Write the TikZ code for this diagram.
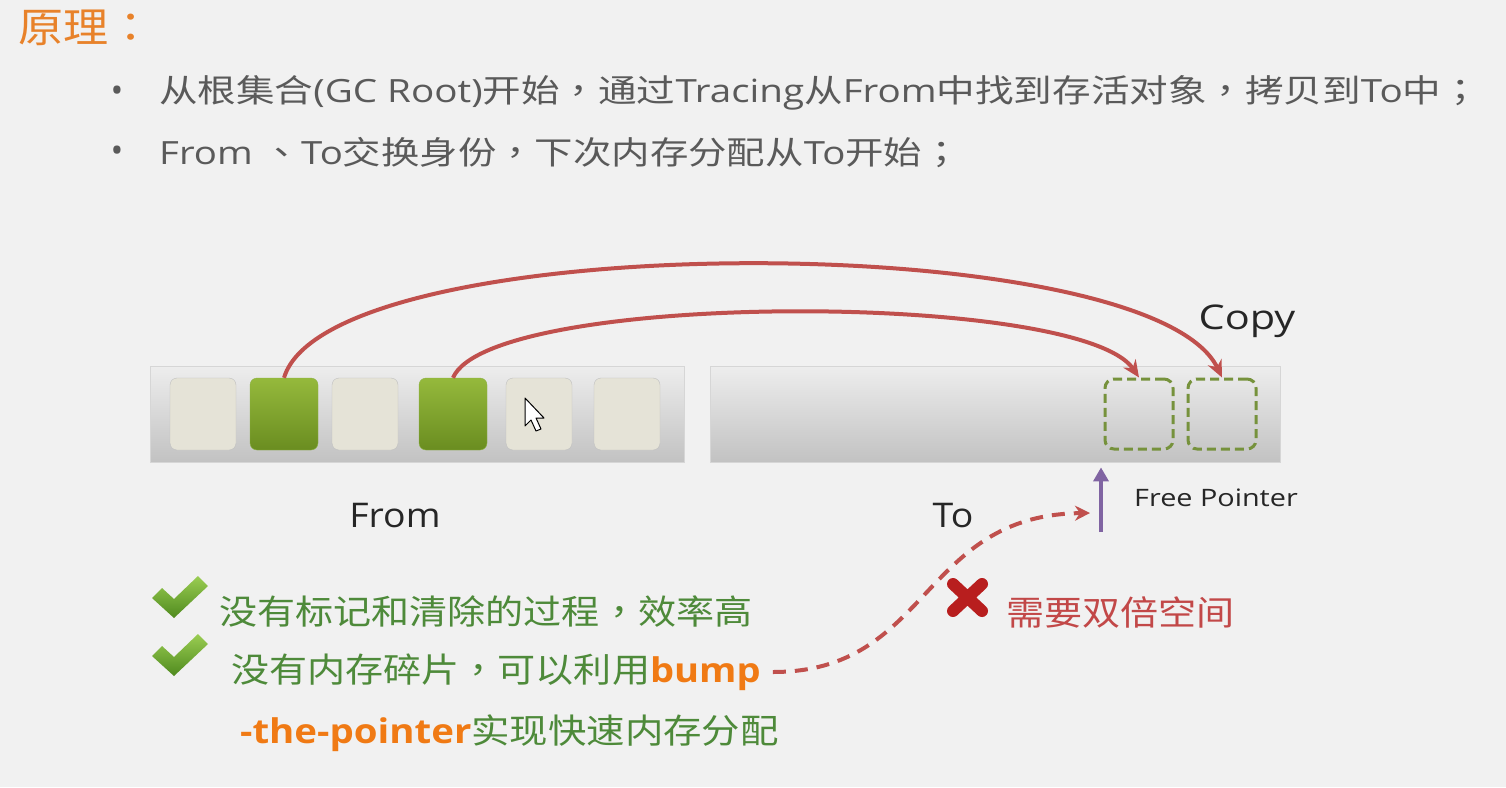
\documentclass[tikz,border=0pt]{standalone}
\usepackage{fontspec}
\usepackage{graphicx}
\setmainfont{Open Sans}
\newfontfamily\cjk{Noto Sans CJK SC}
\newfontfamily\cjkp{Noto Sans CJK TC}
\usetikzlibrary{arrows.meta}
\newcommand\zh[1]{{\cjk #1}}
\newcommand\pc[1]{{\cjkp #1}}
\newcommand\sx[2]{\scalebox{#1}[1]{#2}}
\definecolor{bgc}{HTML}{F1F1F1}
\definecolor{titleor}{HTML}{E8822A}
\definecolor{bodyg}{HTML}{5A5A5A}
\definecolor{darkt}{HTML}{262626}
\definecolor{greent}{HTML}{4E8A3A}
\definecolor{oranget}{HTML}{F07A14}
\definecolor{redt}{HTML}{C24848}
\definecolor{arrred}{HTML}{C0504D}
\definecolor{purp}{HTML}{8064A2}
\definecolor{olive}{HTML}{76923C}
\definecolor{cellbeige}{HTML}{E5E3D7}
\definecolor{livetop}{HTML}{95B93C}
\definecolor{livebot}{HTML}{6A8D20}
\definecolor{livedraw}{HTML}{8DB347}
\definecolor{checktop}{HTML}{9ACD52}
\definecolor{checkbot}{HTML}{4F8A1E}
\definecolor{xred}{HTML}{B81E1E}
\begin{document}
\begin{tikzpicture}[x=1pt,y=-1pt,
  titletext/.style={text=titleor,font=\cjk\fontsize{41}{48}\selectfont,inner sep=0pt,anchor=west},
  bodytext/.style={text=bodyg,font=\fontsize{32}{38}\selectfont,inner sep=0pt,anchor=west},
  bulletmark/.style={text=bodyg,font=\fontsize{34}{40}\selectfont,inner sep=0pt},
  labeltext/.style={text=darkt,font=\fontsize{34}{40}\selectfont,inner sep=0pt},
  greentext/.style={text=greent,font=\fontsize{34}{40}\selectfont,inner sep=0pt,anchor=west},
  redtext/.style={text=redt,font=\fontsize{34}{40}\selectfont,inner sep=0pt,anchor=west},
  membar/.style={draw=black!16,top color=black!7,bottom color=black!24,minimum height=96pt,inner sep=0pt,anchor=north west},
  freecell/.style={draw=black!25,fill=cellbeige,rounded corners=7pt,minimum width=66pt,minimum height=72pt,inner sep=0pt},
  livecell/.style={draw=livedraw,top color=livetop,bottom color=livebot,rounded corners=7pt,minimum width=68pt,minimum height=72pt,inner sep=0pt},
  copycell/.style={draw=olive,line width=3pt,dash pattern=on 9pt off 5pt,rounded corners=9pt,minimum width=68pt,minimum height=70pt,inner sep=0pt},
  copyarrow/.style={draw=arrred,line width=4pt,-{Stealth[length=17pt,width=15pt]}},
  bumparrow/.style={draw=arrred,line width=4pt,dash pattern=on 13pt off 9pt,-{Stealth[length=15pt,width=15pt]}},
  ptrarrow/.style={draw=purp,line width=4pt,-{Triangle[length=14pt,width=15pt]}},
  okmark/.style={top color=checktop,bottom color=checkbot},
]
\useasboundingbox (0,0) rectangle (1506,787);
\fill[bgc] (0,0) rectangle (1506,787);

% heading and bullets
\node[titletext] (title) at (18,28) {\sx{1.1}{原理\pc{：}}};
\node[bulletmark] (b1) at (117,94) {•};
\node[bulletmark] (b2) at (117,154) {•};
\node[bodytext] (l1) at (159,93) {\sx{1.205}{\zh{从根集合}(GC Root)\zh{开始\pc{，}通过}Tracing\zh{从}From\zh{中找到存活对象\pc{，}拷贝到}To\zh{中\pc{；}}}};
\node[bodytext] (l2) at (159,153) {\sx{1.2}{From \zh{\pc{、}}To\zh{交换身份\pc{，}下次内存分配从}To\zh{开始\pc{；}}}};

% memory bars
\node[membar,minimum width=534pt] (from) at (150,366) {};
\node[membar,minimum width=570pt] (to) at (710,366) {};

% from cells
\node[freecell] (c1) at (203,414) {};
\node[livecell] (c2) at (284,414) {};
\node[freecell] (c3) at (365,414) {};
\node[livecell] (c4) at (453,414) {};
\node[freecell] (c5) at (539,414) {};
\node[freecell] (c6) at (627,414) {};

% mouse cursor
\draw[black,fill=white,line width=1pt,line join=round] (525,398) -- (525,426) -- (531,420) -- (536,431) -- (541,429) -- (536,418) -- (544,418) -- cycle;

% to cells
\node[copycell] (t1) at (1139,414) {};
\node[copycell] (t2) at (1222,414) {};

% copy arrows
\draw[copyarrow] (c2.north) .. controls +(45,-151) and +(-72,-151) .. (t2.north);
\draw[copyarrow] (c4.north) .. controls +(37,-87) and +(-59,-87) .. (t1.north);

\node[labeltext] (copy) at (1247,321) {\sx{1.22}{Copy}};
\node[labeltext] (fromlbl) at (395,516) {\sx{1.1}{From}};
\node[labeltext] (tolbl) at (953,516) {\sx{1.1}{To}};

% free pointer
\coordinate (fpb) at (1101,532);
\draw[ptrarrow] (fpb) -- ([yshift=-5pt]fpb |- to.south);
\node[text=darkt,font=\fontsize{24}{28}\selectfont,inner sep=0pt,anchor=west] (fptxt) at (1134,498) {\sx{1.2}{Free Pointer}};

% advantages
\shade[okmark] (152,598) -- (162,588) -- (174,599) -- (198,576) -- (208,586) -- (174,618) -- cycle;
\shade[okmark] (152,656) -- (162,646) -- (174,657) -- (198,634) -- (208,644) -- (174,676) -- cycle;
\node[greentext] (adv1) at (219,612) {\sx{1.12}{\zh{没有标记和清除的过程\pc{，}效率高}}};
\node[greentext] (adv2) at (231,672) {\sx{1.12}{\zh{没有内存碎片\pc{，}可以利用}{\bfseries\color{oranget}bump}}};
\node[greentext] (adv3) at (240,733) {\sx{1.13}{{\bfseries\color{oranget}-the-pointer}\zh{实现快速内存分配}}};

% disadvantage
\draw[xred,line width=12pt,line cap=round] (953,584) -- (982,611) (982,584) -- (953,611);
\node[redtext] (dis) at (1006,612) {\sx{1.12}{\zh{需要双倍空间}}};

% bump arrow
\coordinate (fpa) at (1090,513);
\draw[bumparrow] ([xshift=12pt]adv2.east) .. controls +(158,0) and +(-170,2) .. (fpa);
\end{tikzpicture}
\end{document}
